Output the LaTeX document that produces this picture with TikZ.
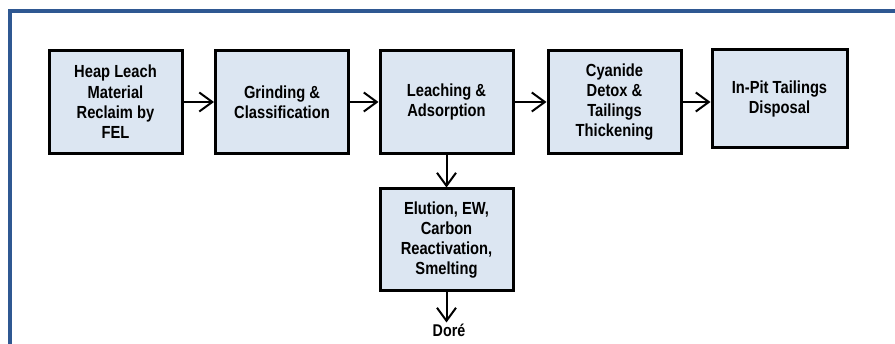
\documentclass[tikz,border=0pt]{standalone}
\usepackage{fontspec}
\setmainfont{Liberation Sans}[FakeStretch=0.84]
\usetikzlibrary{arrows.meta}

\definecolor{framecol}{RGB}{47,88,146}
\definecolor{boxfill}{RGB}{220,230,242}

\tikzset{
  procbox/.style={draw=black, fill=boxfill, line width=3pt, align=center,
    minimum width=133pt, minimum height=103pt, inner sep=2pt,
    font=\fontsize{17.5}{20.3}\selectfont\bfseries},
  flow/.style={line width=2pt, -{Straight Barb[length=13pt,width=19pt]}}
}

\begin{document}
\begin{tikzpicture}[x=1pt, y=-1pt]

    % --- Canvas ---
    \useasboundingbox (0,0) rectangle (895,344);

    % --- Frame ---
    % Only the left and top sides of the border are visible
    \draw[framecol, line width=4pt] (9.5,344) -- (9.5,11.5) -- (895,11.5);

    % --- Process boxes ---
    \node[procbox] (reclaim) at (115.5,102) {Heap Leach\\Material\\Reclaim by\\FEL};
    \node[procbox] (grind)   at (282,102)   {Grinding \&\\Classification};
    \node[procbox] (leach)   at (446.5,102) {Leaching \&\\Adsorption};
    \node[procbox] (detox)   at (614.5,102) {Cyanide\\Detox \&\\Tailings\\Thickening};
    \node[procbox, minimum width=135pt, minimum height=98pt] (disposal) at (779.5,99) {In-Pit Tailings\\Disposal};
    \node[procbox, minimum height=102pt] (elution) at (446.5,240) {Elution, EW,\\Carbon\\Reactivation,\\Smelting};

    % --- Product ---
    \node[font=\fontsize{17}{19}\selectfont\bfseries, inner sep=1pt] (dore) at (449,330) {Doré};

    % --- Arrows ---
    \draw[flow] (reclaim) -- (grind);
    \draw[flow] (grind) -- (leach);
    \draw[flow] (leach) -- (detox);
    \draw[flow] (detox) -- (disposal.west |- detox);
    \draw[flow] (leach) -- (elution);
    \draw[flow] (elution.south) -- (elution.south |- dore.north);

\end{tikzpicture}
\end{document}
